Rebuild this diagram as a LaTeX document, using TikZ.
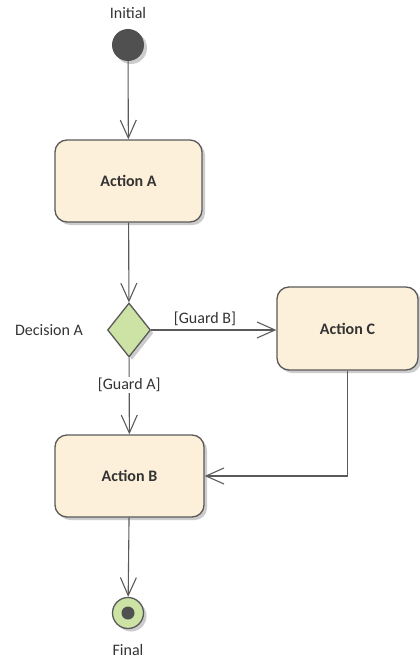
\documentclass[tikz,border=0pt]{standalone}
\usepackage{fontspec}
\setmainfont{Carlito}
\usetikzlibrary{arrows.meta,shapes.geometric,shadows}

\definecolor{actfill}{HTML}{FDF0DA}
\definecolor{decfill}{HTML}{CDE2A5}
\definecolor{edgecol}{HTML}{5A5A5A}
\definecolor{darkdot}{HTML}{505050}
\definecolor{txtcol}{HTML}{333333}

\newcommand{\diagfont}{\fontsize{16}{19}\selectfont}

\tikzset{
  shade3/.style={drop shadow={shadow xshift=3pt, shadow yshift=-3pt, fill=black!25, opacity=0.8}},
  actionbox/.style={rectangle, rounded corners=12pt, draw=edgecol, line width=1.3pt,
    fill=actfill, font=\diagfont\bfseries, text=txtcol, shade3, inner sep=0pt},
  decisionbox/.style={diamond, draw=edgecol, line width=1.3pt, fill=decfill,
    minimum width=43pt, minimum height=54pt, inner sep=0pt, shade3},
  lbl/.style={font=\diagfont, text=txtcol, inner sep=1pt},
  flow/.style={draw=edgecol, line width=1.1pt,
    -{Straight Barb[length=18pt, width=16pt, line width=1.1pt]}},
}

\begin{document}
\begin{tikzpicture}[x=1pt, y=-1pt]
\useasboundingbox (0,0) rectangle (420,661);

% start and end markers
\node[circle, fill=darkdot, minimum size=32pt, inner sep=0pt, shade3] (init) at (128,45) {};
\node[lbl] (initlbl) at (128,13) {Initial};

\node[circle, draw=edgecol, line width=1.3pt, fill=decfill, minimum size=31pt, inner sep=0pt, shade3] (final) at (128,613) {};
\node[circle, fill=darkdot, minimum size=13pt, inner sep=0pt] (finaldot) at (final.center) {};
\node[lbl] (finallbl) at (128,650) {Final};

% actions
\node[actionbox, minimum width=147pt, minimum height=82pt] (A) at (128.5,181) {Action A};
\node[actionbox, minimum width=141pt, minimum height=83pt] (C) at (347.5,328.5) {Action C};
\node[actionbox, minimum width=149pt, minimum height=82pt] (B) at (129.5,476) {Action B};

% decision
\node[decisionbox] (dec) at (129,330) {};
\node[lbl] (declbl) at (49,330) {Decision A};

% flows
\draw[flow] (init) -- (A);
\draw[flow] (A) -- (dec);
\draw[flow] (dec.east) -- node[lbl, pos=0.43, above=3pt] (gb) {[Guard B]} (C.west |- dec.east);
\draw[flow] (dec) -- node[lbl, pos=0.36, fill=white] (ga) {[Guard A]} (B);
\draw[flow] (C.south) |- (B.east);
\draw[flow] (B) -- (final);
\end{tikzpicture}
\end{document}
